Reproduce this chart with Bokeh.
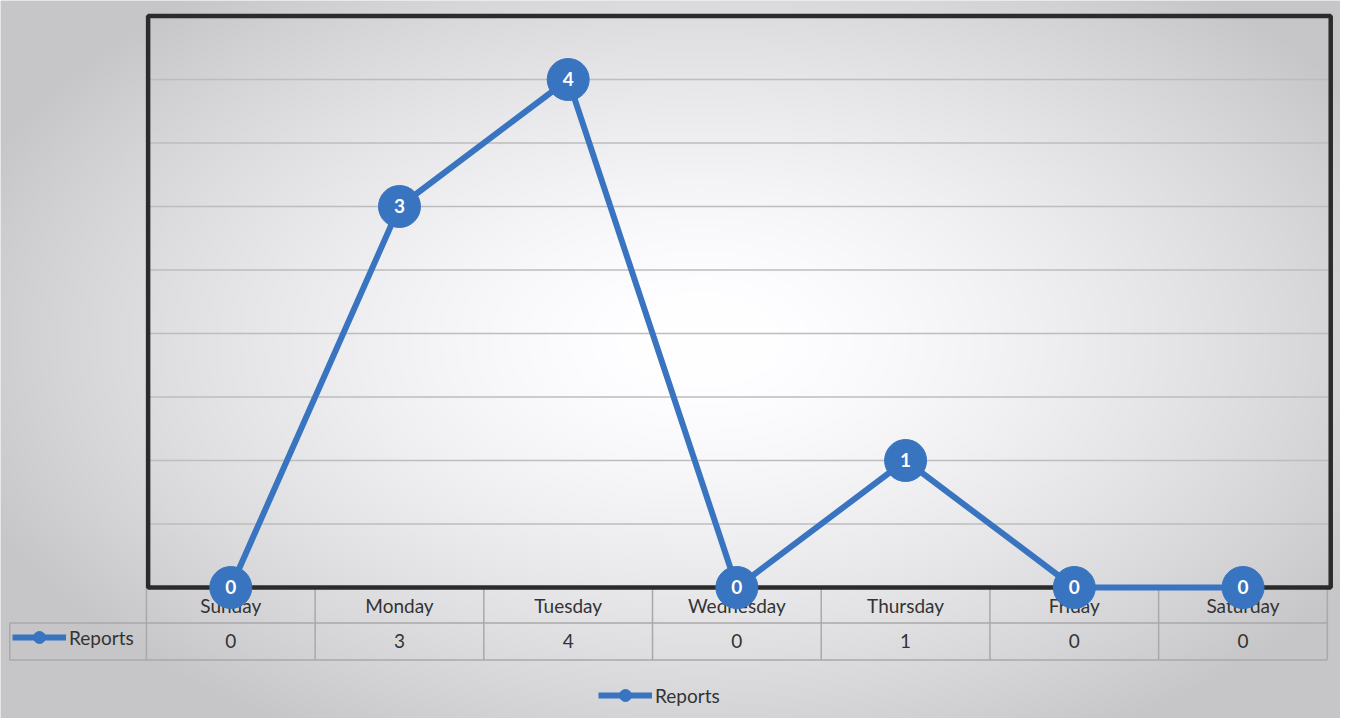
import numpy as np
from bokeh.plotting import figure
from bokeh.models import Range1d, Legend, LegendItem
from bokeh.core.properties import value
from bokeh.embed import file_html
from bokeh.resources import INLINE

# ---- data ----
days = ["Sunday", "Monday", "Tuesday", "Wednesday", "Thursday", "Friday", "Saturday"]
reports = [0, 3, 4, 0, 1, 0, 0]
series_name = "Reports"
grid_levels = [0.5, 1.0, 1.5, 2.0, 2.5, 3.0, 3.5, 4.0]
y_top = 4.5

# ---- layout ----
W, H = 1340, 718
X0, X1 = -1.365, 6.578
Y1 = 4.622
Y0 = Y1 - H / 127.0
BLUE = "#3874bf"
FONT = "Lato"

idx = list(range(len(days)))

p = figure(width=W, height=H, x_range=Range1d(X0, X1), y_range=Range1d(Y0, Y1),
           x_axis_type=None, y_axis_type=None, toolbar_location=None,
           output_backend="svg", min_border=0)
p.outline_line_color = None
p.background_fill_color = "#e6e6e8"
p.border_fill_color = "#e6e6e8"

# photographic vignette (style only)
nx, ny = 335, 180
gx = np.linspace(0, W, nx)
gy = np.linspace(H, 0, ny)
PX, PY = np.meshgrid(gx, gy)
r = np.sqrt(((PX - 700) / 820.0) ** 2 + ((PY - 340) / 480.0) ** 2)
b = np.clip(256 - 62 * r ** 1.5, 198, 254).astype(np.uint8)
img = np.empty((ny, nx), dtype=np.uint32)
view = img.view(dtype=np.uint8).reshape((ny, nx, 4))
view[..., 0] = b
view[..., 1] = b
view[..., 2] = np.clip(b.astype(int) + 2, 0, 255).astype(np.uint8)
view[..., 3] = 255
p.image_rgba(image=[img], x=X0, y=Y0, dw=X1 - X0, dh=Y1 - Y0)

# gridlines inside plot box
left_edge, right_edge = -0.49, 6.52
p.segment(x0=left_edge, y0=grid_levels, x1=right_edge, y1=grid_levels,
          line_color="#bdbdbd", line_width=1.5)

# data table
row1, row2 = -0.28, -0.57
key_left = -1.31
n = len(days)
xb = [i - 0.5 for i in range(n + 1)]
TABLE = "#a9a9a9"
p.segment(x0=xb, y0=0, x1=xb, y1=row2, line_color=TABLE, line_width=1.5)
p.segment(x0=key_left, y0=row1, x1=key_left, y1=row2, line_color=TABLE, line_width=1.5)
p.segment(x0=[key_left, key_left], y0=[row1, row2], x1=[xb[-1], xb[-1]], y1=[row1, row2],
          line_color=TABLE, line_width=1.5)

p.text(x=idx, y=[row1 / 2] * n, text=days, text_align="center", text_baseline="middle",
       text_font=value(FONT), text_font_size="19px", text_color="#333333")
p.text(x=idx, y=[(row1 + row2) / 2] * n, text=[str(v) for v in reports],
       text_align="center", text_baseline="middle",
       text_font=value(FONT), text_font_size="19px", text_color="#333333")

# plot box border
p.quad(left=left_edge, right=right_edge, bottom=0, top=y_top, fill_alpha=0,
       line_color="#2b2b2b", line_width=4.5)

# series
line_r = p.line(idx, reports, line_color=BLUE, line_width=6)
sc_r = p.scatter(idx, reports, size=42, fill_color=BLUE, line_color=BLUE)
p.text(x=idx, y=reports, text=[str(v) for v in reports], text_align="center",
       text_baseline="middle", text_font=value(FONT), text_font_size="19px",
       text_font_style="bold", text_color="white")

def make_legend(loc):
    return Legend(items=[LegendItem(label=series_name, renderers=[line_r, sc_r])],
                  location=loc, border_line_alpha=0, background_fill_alpha=0,
                  padding=0, margin=0, spacing=0, glyph_width=54, glyph_height=30,
                  label_standoff=3, label_height=20, label_text_font=FONT,
                  label_text_font_size="19px", label_text_color="#333333")

p.add_layout(make_legend((12, 66)))
p.add_layout(make_legend((598, 8)))

open("out.html", "w").write(file_html(p, INLINE))
